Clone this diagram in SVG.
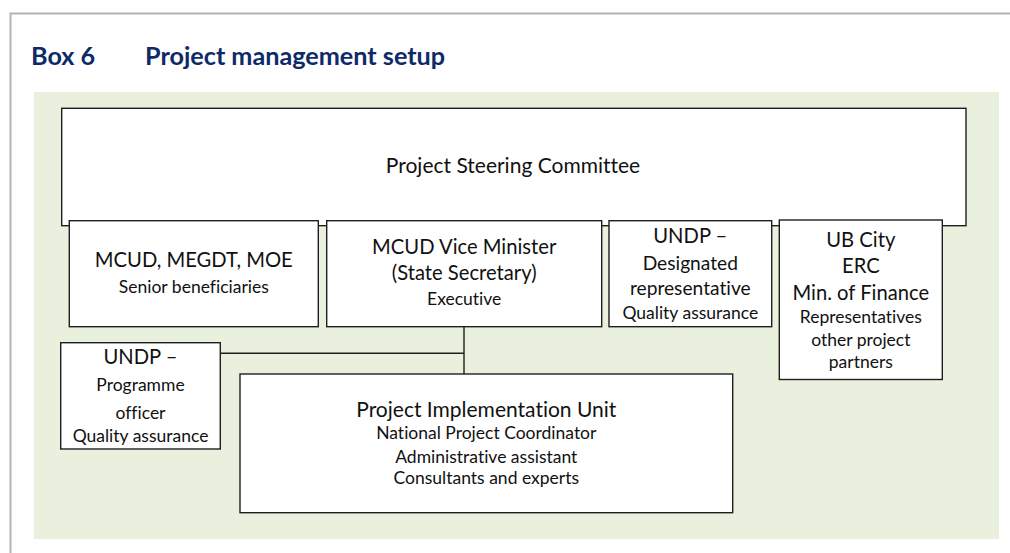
<svg xmlns="http://www.w3.org/2000/svg" width="1010" height="553" viewBox="0 0 1010 553">
  <style>
    .frame { fill: #ffffff; stroke: #b3b3b3; stroke-width: 2; }
    .panel { fill: #e9f0de; }
    .box { fill: #ffffff; stroke: #1e1e1e; stroke-width: 1.4; }
    .link { fill: none; stroke: #1e1e1e; stroke-width: 1.4; }
    text { font-family: Lato, "Liberation Sans", sans-serif; font-variant-ligatures: none; }
    .title { font-weight: bold; font-size: 25.2px; fill: #0e2a68; }
    text.xl { font-size: 21px; fill: #111111; text-anchor: middle; }
    text.lg { font-size: 20.2px; fill: #111111; text-anchor: middle; }
    text.md { font-size: 19.2px; fill: #111111; text-anchor: middle; }
    text.sm { font-size: 17.5px; fill: #111111; text-anchor: middle; }
  </style>

  <!-- page frame and shaded panel -->
  <path class="frame" d="M1012 13.5 H10.5 V560"/>
  <rect class="panel" x="34" y="92" width="965" height="447"/>

  <g id="title">
    <text class="title" x="31" y="65">Box 6</text>
    <text class="title" x="145" y="65">Project management setup</text>
  </g>

  <g id="steering-committee">
    <rect class="box" x="61.7" y="108.3" width="904.3" height="117.4"/>
    <text class="xl" x="513" y="173">Project Steering Committee</text>
  </g>

  <g id="connectors">
    <path class="link" d="M464 326.7 V374"/>
    <path class="link" d="M220.3 353.3 H464"/>
  </g>

  <g id="senior-beneficiaries">
    <rect class="box" x="69.3" y="220.7" width="249" height="106"/>
    <text class="lg" x="193.8" y="267.3">MCUD, MEGDT, MOE</text>
    <text class="sm" x="193.8" y="293.3">Senior beneficiaries</text>
  </g>

  <g id="executive">
    <rect class="box" x="326.7" y="220.7" width="275" height="106"/>
    <text class="lg" x="464.2" y="254">MCUD Vice Minister</text>
    <text class="lg" x="464.2" y="280">(State Secretary)</text>
    <text class="sm" x="464.2" y="305">Executive</text>
  </g>

  <g id="undp-representative">
    <rect class="box" x="609" y="220.7" width="162.7" height="106"/>
    <text class="lg" x="690.3" y="243.3">UNDP –</text>
    <text class="md" x="690.3" y="270">Designated</text>
    <text class="md" x="690.3" y="295">representative</text>
    <text class="sm" x="690.3" y="319.3">Quality assurance</text>
  </g>

  <g id="other-partners">
    <rect class="box" x="779.3" y="220" width="163" height="159.5"/>
    <text class="lg" x="860.8" y="246.7">UB City</text>
    <text class="lg" x="860.8" y="273.3">ERC</text>
    <text class="lg" x="860.8" y="300">Min. of Finance</text>
    <text class="sm" x="860.8" y="323.3">Representatives</text>
    <text class="sm" x="860.8" y="346">other project</text>
    <text class="sm" x="860.8" y="368.3">partners</text>
  </g>

  <g id="undp-programme-officer">
    <rect class="box" x="60.7" y="342.7" width="159.6" height="106.3"/>
    <text class="lg" x="140.5" y="364">UNDP –</text>
    <text class="sm" x="140.5" y="391">Programme</text>
    <text class="sm" x="140.5" y="419.3">officer</text>
    <text class="sm" x="140.5" y="442.3">Quality assurance</text>
  </g>

  <g id="implementation-unit">
    <rect class="box" x="240" y="374" width="492.7" height="138.7"/>
    <text class="xl" x="486.3" y="416.7">Project Implementation Unit</text>
    <text class="sm" x="486.3" y="439.3">National Project Coordinator</text>
    <text class="sm" x="486.3" y="462.7">Administrative assistant</text>
    <text class="sm" x="486.3" y="484">Consultants and experts</text>
  </g>
</svg>
